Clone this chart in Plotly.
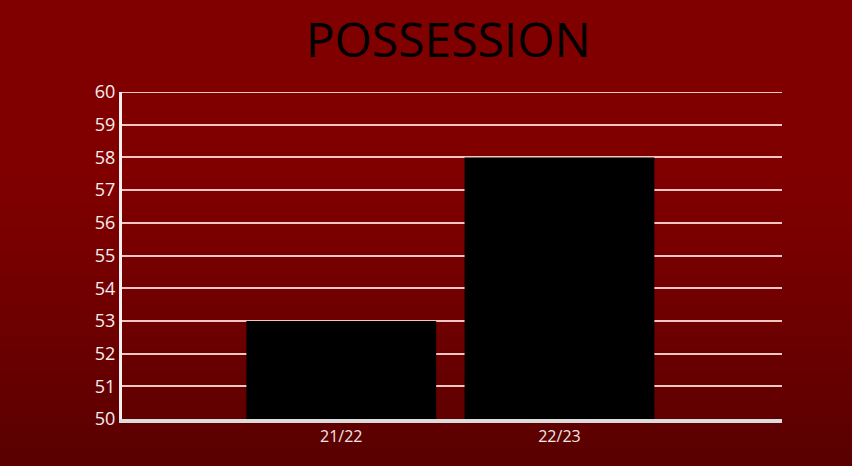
import plotly.graph_objects as go

seasons = ["21/22", "22/23"]
possession = [53, 58]
y_ticks = list(range(50, 61))

x_pos = list(range(len(seasons)))

fig = go.Figure()
fig.add_trace(go.Bar(
    x=x_pos, y=possession, width=0.87,
    marker=dict(color="#000000", line=dict(width=0)),
    hoverinfo="skip",
))

# background gradient bands
n = 40
top = (128, 0, 0)
bot = (86, 0, 0)
shapes = []
for i in range(n):
    t = i / (n - 1)
    f = max(0.0, (t - 0.35) / 0.65) ** 1.2
    c = tuple(int(round(top[k] + (bot[k] - top[k]) * f)) for k in range(3))
    y0 = i / n
    y1 = (i + 1) / n + 0.002
    shapes.append(dict(type="rect", xref="paper", yref="paper",
                       x0=-0.3, x1=1.3,
                       y0=1.3 - y0 * 1.5, y1=1.3 - y1 * 1.5,
                       fillcolor="rgb(%d,%d,%d)" % c, line=dict(width=0), layer="below"))

# top gridline (at the range edge)
shapes.append(dict(type="line", xref="paper", yref="y", x0=0, x1=1,
                   y0=y_ticks[-1], y1=y_ticks[-1], line=dict(color="#f3c4c4", width=2), layer="below"))

fig.update_layout(
    width=852, height=466,
    margin=dict(l=122, r=70, t=92, b=47),
    paper_bgcolor="#7f0000",
    plot_bgcolor="rgba(0,0,0,0)",
    shapes=shapes,
    showlegend=False,
    title=dict(text="POSSESSION", x=0.526, xanchor="center", y=0.913, yanchor="middle",
               font=dict(family="Open Sans", size=48, color="#000000")),
    xaxis=dict(range=[-1.005, 2.02], tickvals=x_pos, ticktext=seasons,
               showgrid=False, zeroline=False, showline=True, linecolor="#dcdcdc", linewidth=4,
               ticks="", tickfont=dict(family="Open Sans", size=16, color="#f2e6e6")),
    yaxis=dict(range=[50, 60], tickvals=y_ticks, showgrid=True, gridcolor="#f3c4c4", gridwidth=2,
               zeroline=False, showline=True, linecolor="#f5f0f0", linewidth=3,
               ticks="", ticklen=0, tickfont=dict(family="Open Sans", size=18, color="#f7eeee")),
)

fig.write_html("out.html", config={"displayModeBar": False},
               post_script="document.body.style.margin='0';document.body.style.background='#7f0000';")
